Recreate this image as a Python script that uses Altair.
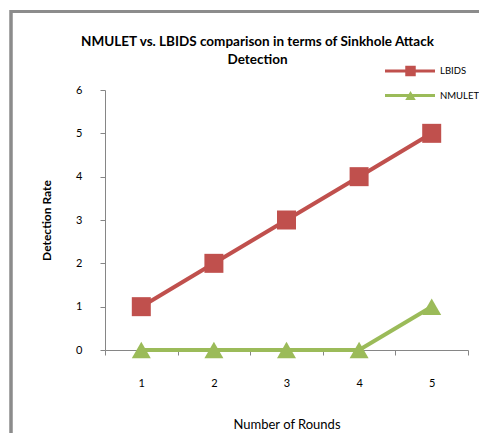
import altair as alt
import pandas as pd

rounds = ["1", "2", "3", "4", "5"]
lbids = [1, 2, 3, 4, 5]
nmulet = [0, 0, 0, 0, 1]
series = ["LBIDS", "NMULET"]
colors = ["#C0504D", "#9BBB59"]
shapes = ["square", "triangle-up"]
y_ticks = [0, 1, 2, 3, 4, 5, 6]

rows = []
for r, a, b in zip(rounds, lbids, nmulet):
    rows.append({"round": r, "value": a, "series": "LBIDS"})
    rows.append({"round": r, "value": b, "series": "NMULET"})
df = pd.DataFrame(rows)
leg = pd.DataFrame({"series": series})

FONT = "Lato"
W, H = 363, 260

color = alt.Color("series:N", scale=alt.Scale(domain=series, range=colors), legend=None)
shape = alt.Shape("series:N", scale=alt.Scale(domain=series, range=shapes), legend=None)

x = alt.X(
    "round:O",
    sort=rounds,
    scale=alt.Scale(type="band", paddingInner=0, paddingOuter=0),
    axis=alt.Axis(
        title="Number of Rounds",
        labelAngle=0,
        tickBand="extent",
        tickSize=5,
        labelPadding=22,
        labelFontSize=11,
        labelFont=FONT,
        labelColor="#000",
        titleFont=FONT,
        titleFontSize=13,
        titleFontWeight="normal",
        titleColor="#000",
        titleBaseline="alphabetic",
        titleY=78,
        domainColor="#868686",
        tickColor="#868686",
        grid=False,
    ),
)
y = alt.Y(
    "value:Q",
    scale=alt.Scale(domain=[0, 6], nice=False),
    axis=alt.Axis(
        title="Detection Rate",
        values=y_ticks,
        tickSize=5,
        labelPadding=18,
        labelFontSize=11,
        labelFont=FONT,
        labelColor="#000",
        titleFont=FONT,
        titleFontSize=12,
        titleFontWeight="bold",
        titleColor="#000",
        titleX=-52,
        titleY=H / 2,
        domainColor="#868686",
        tickColor="#868686",
        grid=False,
    ),
)

base = alt.Chart(df)
lines = base.mark_line(strokeWidth=4).encode(x=x, y=y, color=color, detail="series:N")
points = base.mark_point(filled=True, size=361, opacity=1).encode(
    x=x, y=y, color=color, shape=shape
)
data_layer = alt.layer(lines, points)

# frame (left and top border)
frame_left = alt.Chart(leg).mark_rule(color="#8c8c8c", strokeWidth=3).encode(
    x=alt.value(-94), y=alt.value(-80), y2=alt.value(400)
)
frame_top = alt.Chart(leg).mark_rule(color="#8c8c8c", strokeWidth=3).encode(
    x=alt.value(-95), x2=alt.value(420), y=alt.value(-78.5)
)

ly = alt.Y(
    "series:N",
    scale=alt.Scale(type="point", domain=series, range=[-19, 5.5], padding=0),
    axis=None,
)
leg_lines = alt.Chart(leg).mark_rule(strokeWidth=3).encode(
    x=alt.value(280), x2=alt.value(330), y=ly, color=color
)
leg_pts = alt.Chart(leg).mark_point(filled=True, size=110, opacity=1).encode(
    x=alt.value(305.5), y=ly, color=color, shape=shape
)
leg_txt = alt.Chart(leg).mark_text(
    align="left", baseline="middle", font=FONT, fontSize=9.5, color="#000"
).encode(x=alt.value(335), y=ly, text="series:N")
legend_layer = alt.layer(leg_lines, leg_pts, leg_txt)

chart = (
    alt.layer(data_layer, frame_left, frame_top, legend_layer)
    .resolve_scale(y="independent")
    .properties(
        width=W,
        height=H,
        title=alt.TitleParams(
            text=["NMULET vs. LBIDS comparison in terms of Sinkhole Attack", "Detection"],
            font=FONT,
            fontSize=13.5,
            fontWeight="bold",
            color="#000",
            anchor="middle",
            frame="group",
            baseline="alphabetic",
            dx=-29,
            dy=95,
            lineHeight=18,
            offset=26,
        ),
        autosize=alt.AutoSizeParams(type="none"),
        padding={"left": 97, "top": 82, "right": 11, "bottom": 83},
    )
    .configure_view(stroke=None)
)

chart.save("out.html", embed_options={"renderer": "svg", "actions": False})
